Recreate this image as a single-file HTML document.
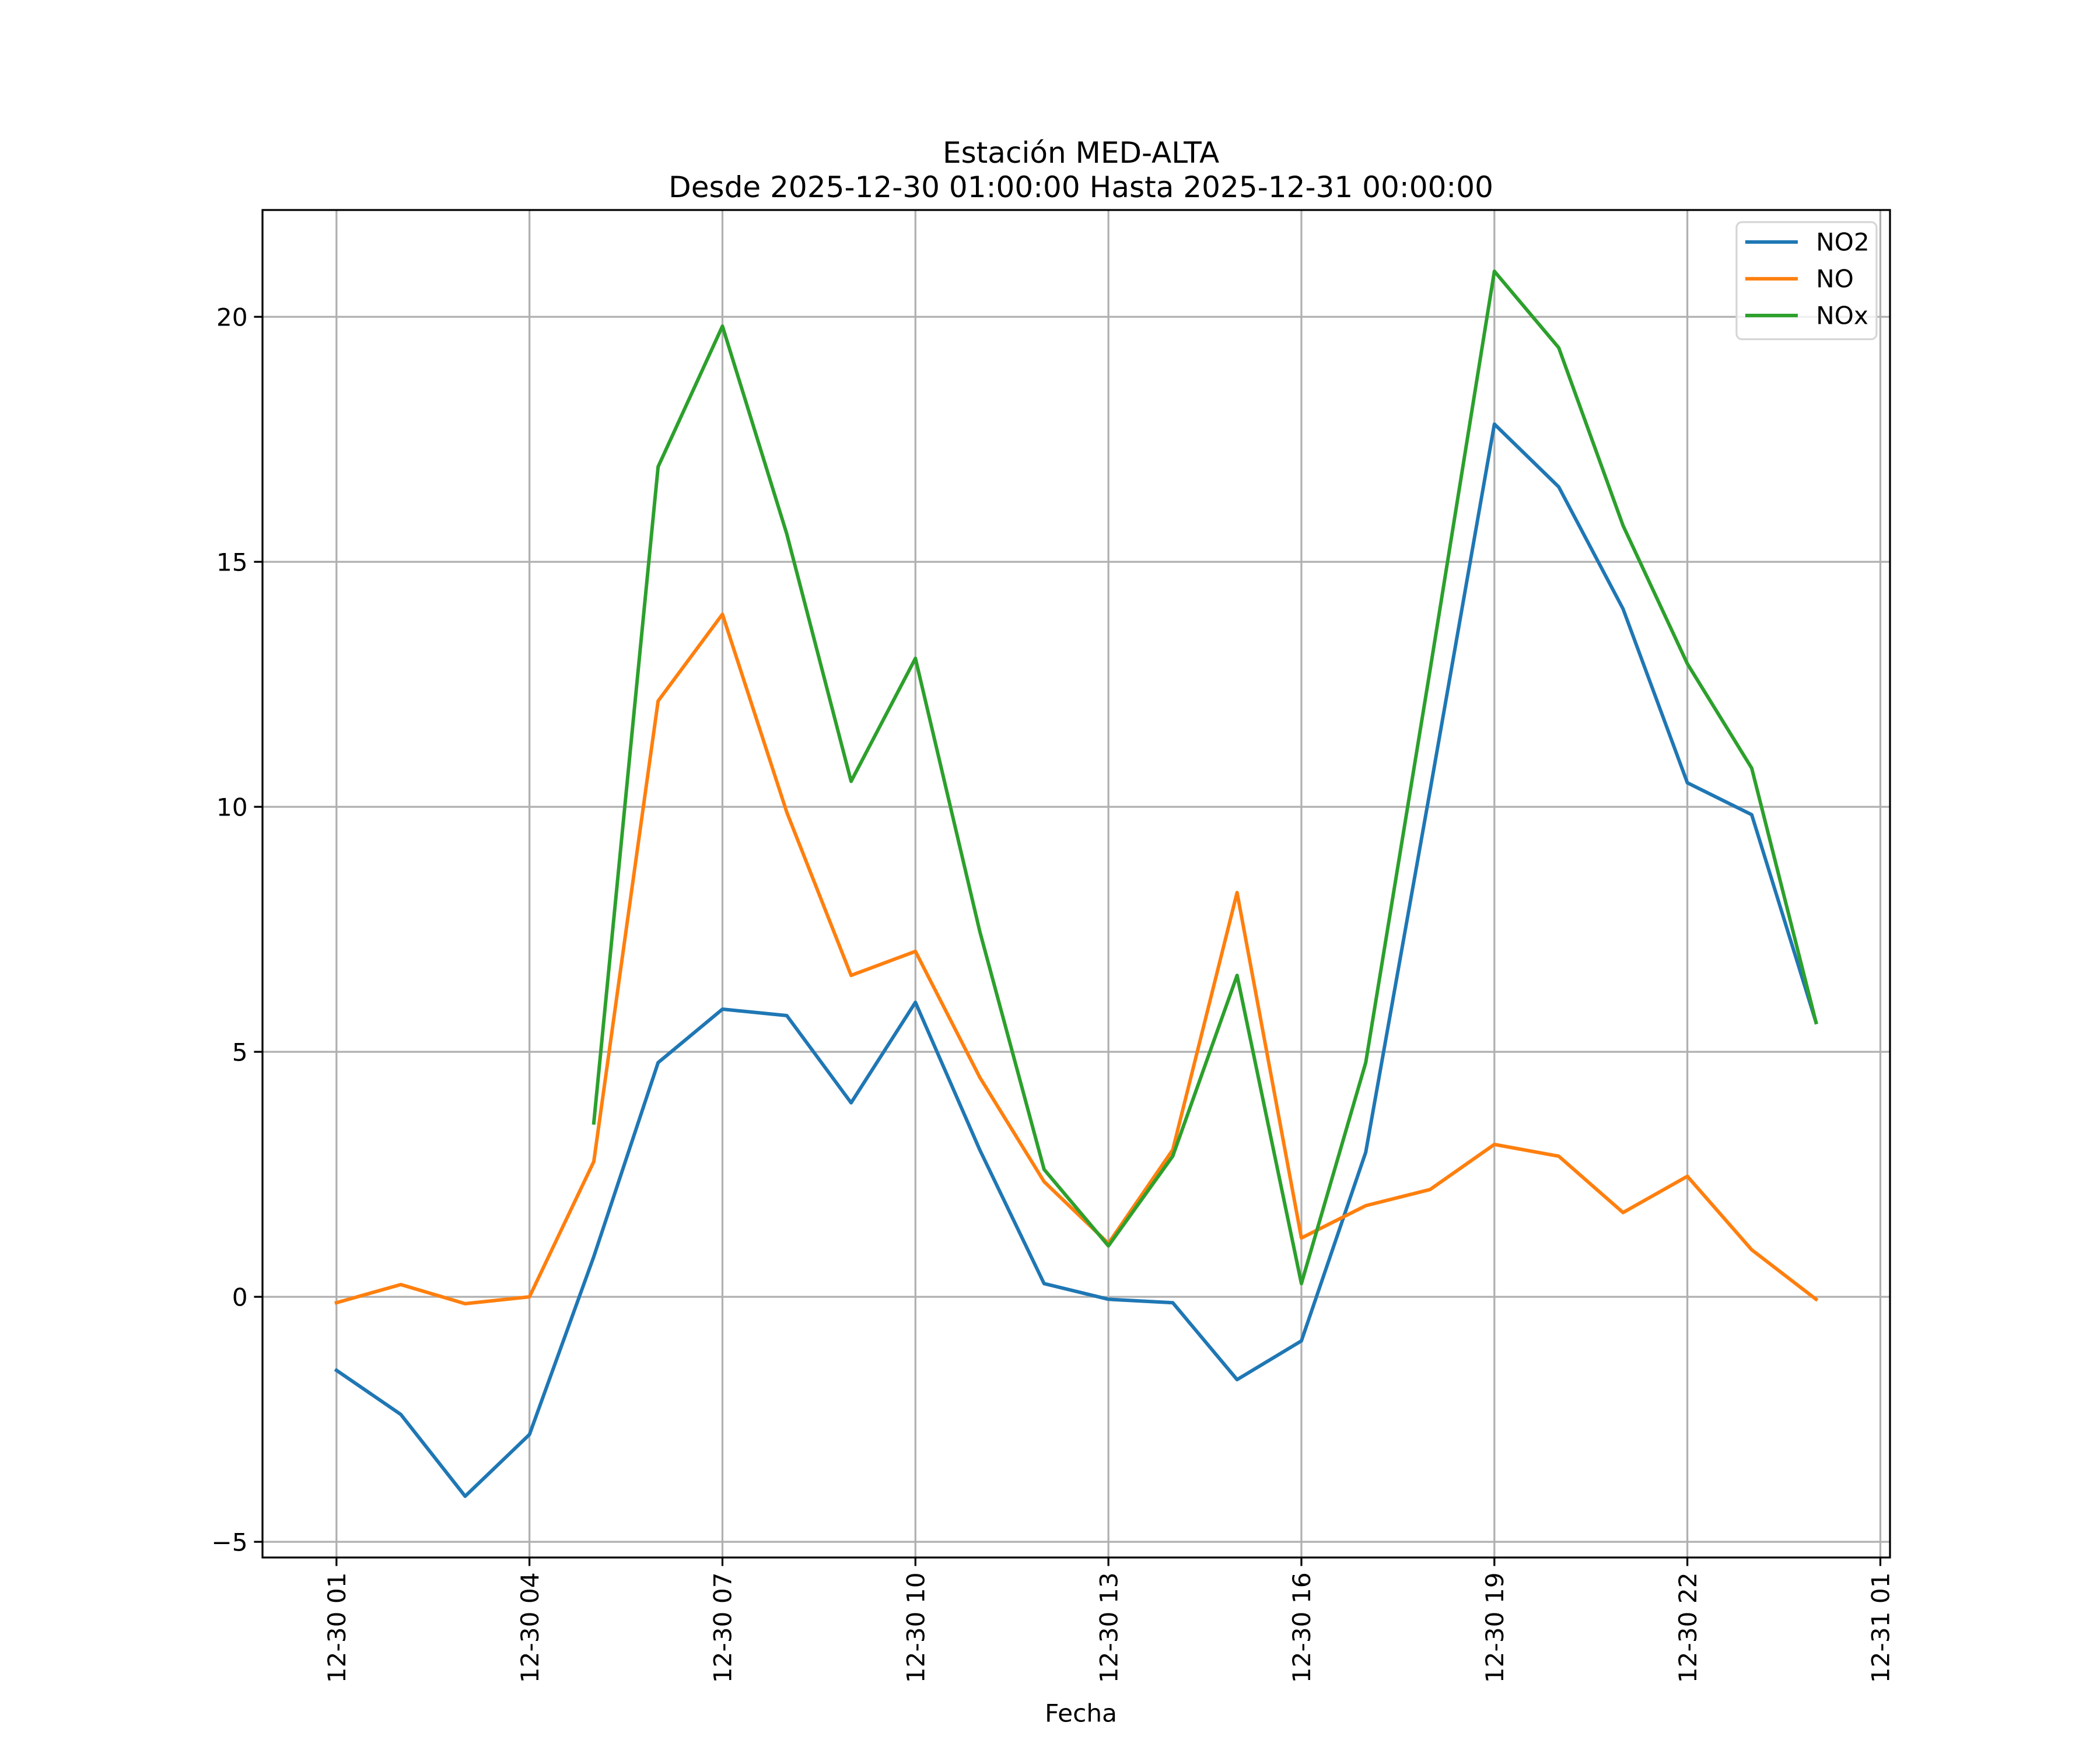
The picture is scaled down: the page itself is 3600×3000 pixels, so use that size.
<!DOCTYPE html>
<html><head><meta charset="utf-8"><style>
html,body{margin:0;padding:0;background:#fff;}
svg{display:block;font-family:"DejaVu Sans","Liberation Sans",sans-serif;}
</style></head><body>
<svg id="chart" width="3600" height="3000" viewBox="0 0 1560 1300" xmlns="http://www.w3.org/2000/svg">
<rect width="1560" height="1300" fill="#fff"/>
<text x="803" y="121" font-size="21.7" text-anchor="middle">Estación MED-ALTA</text>
<text x="803" y="146.5" font-size="21.7" text-anchor="middle">Desde 2025-12-30 01:00:00 Hasta 2025-12-31 00:00:00</text>
<g id="grid"></g>
<g id="series"></g>
<rect x="195" y="156" width="1209" height="1001" fill="none" stroke="#000" stroke-width="1.4"/>
<g id="ticks"></g>
<text x="803" y="1279" font-size="18.3" text-anchor="middle">Fecha</text>
<g id="legend">
<rect x="1290" y="165" width="104" height="87" rx="4" fill="#fff" fill-opacity="0.8" stroke="#d6d6d6" stroke-width="1.4"/>
</g>
</svg>
<script>
const hours = [0,1,2,3,4,5,6,7,8,9,10,11,12,13,14,15,16,17,18,19,20,21,22,23];
const no2 = [-1.5,-2.4,-4.07,-2.81,0.82,4.78,5.87,5.74,3.96,6.01,3.0,0.27,-0.05,-0.12,-1.69,-0.9,2.95,10.33,17.81,16.53,14.04,10.49,9.84,5.6];
const no = [-0.12,0.25,-0.14,0,2.76,12.16,13.93,9.89,6.56,7.05,4.48,2.35,1.09,3.0,8.25,1.2,1.86,2.19,3.11,2.87,1.72,2.46,0.96,-0.05];
const nox = [null,null,null,null,3.55,16.94,19.81,15.57,10.52,13.03,7.46,2.6,1.04,2.87,6.56,0.27,4.78,12.79,20.93,19.37,15.74,12.92,10.79,5.6];
const seriesNames = ["NO2","NO","NOx"];
const seriesColors = ["#1f77b4","#ff7f0e","#2ca02c"];
const yTicks = [-5,0,5,10,15,20];
const yTickLabels = ["\u22125","0","5","10","15","20"];
const xTicks = [0,3,6,9,12,15,18,21,24];
const xTickLabels = ["12-30 01","12-30 04","12-30 07","12-30 10","12-30 13","12-30 16","12-30 19","12-30 22","12-31 01"];

const NS="http://www.w3.org/2000/svg";
const L=195,R=1404,T=156,B=1157;
const xmin=-1.15,xmax=24.15,ymin=-5.32,ymax=22.18;
const sx=v=>L+(v-xmin)/(xmax-xmin)*(R-L);
const sy=v=>B-(v-ymin)/(ymax-ymin)*(B-T);
function mk(tag,attrs,parent){const e=document.createElementNS(NS,tag);for(const k in attrs)e.setAttribute(k,attrs[k]);parent.appendChild(e);return e;}
const grid=document.getElementById('grid'),ticks=document.getElementById('ticks'),ser=document.getElementById('series'),leg=document.getElementById('legend');
yTicks.forEach((v,i)=>{
  const y=sy(v);
  const g=mk('line',{x1:L,x2:R,y1:y,y2:y,stroke:'#b0b0b0','stroke-width':1.4},grid);
  
  
  const t=mk('line',{x1:L-6.3,x2:L,y1:y,y2:y,stroke:'#000','stroke-width':1.4},ticks);
  
  
  const tx=mk('text',{x:L-11,y:y+6.6,'font-size':18.3,'text-anchor':'end'},ticks);
  tx.textContent=yTickLabels[i];
  
  
});
xTicks.forEach((v,i)=>{
  const x=sx(v);
  const g=mk('line',{x1:x,x2:x,y1:T,y2:B,stroke:'#b0b0b0','stroke-width':1.4},grid);
  
  
  const t=mk('line',{x1:x,x2:x,y1:B,y2:B+6.3,stroke:'#000','stroke-width':1.4},ticks);
  
  
  const tx=mk('text',{x:0,y:0,'font-size':18.3,'text-anchor':'end',transform:`translate(${x+6.6},${B+11}) rotate(-90)`},ticks);
  tx.textContent=xTickLabels[i];
  
  
});
[no2,no,nox].forEach((arr,si)=>{
  let d='',pen=false;
  arr.forEach((v,i)=>{ if(v===null){pen=false;return;} d+=(pen?'L':'M')+sx(hours[i]).toFixed(2)+' '+sy(v).toFixed(2); pen=true;});
  const p=mk('path',{d:d,fill:'none',stroke:seriesColors[si],'stroke-width':2.6,'stroke-linejoin':'round','stroke-linecap':'square'},ser);
  
  
  const y=179.8+27.3*si;
  const ll=mk('line',{x1:1296.5,x2:1335.5,y1:y,y2:y,stroke:seriesColors[si],'stroke-width':2.6},leg);
  
  
  const lt=mk('text',{x:1349,y:y+6.4,'font-size':18.3},leg);
  lt.textContent=seriesNames[si];
  
  
});
</script>
</body></html>
